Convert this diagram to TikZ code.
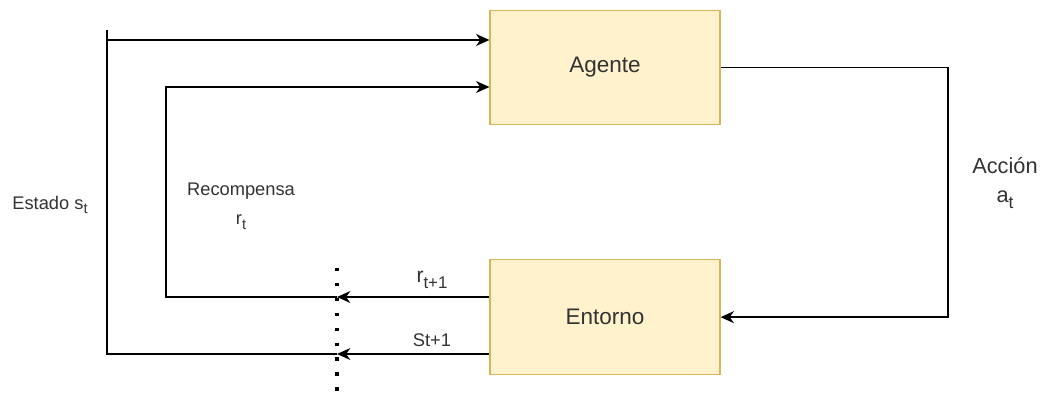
\documentclass[tikz,border=0pt]{standalone}
\usepackage{fontspec}
\setmainfont{Liberation Sans}
\usetikzlibrary{arrows.meta,positioning}

\definecolor{boxfill}{HTML}{FFF2CC}
\definecolor{boxline}{HTML}{D6B656}
\definecolor{txt}{HTML}{333333}

\makeatletter
\newcommand\sbi[1]{\raisebox{-0.5ex}{\fontsize{\strip@pt\dimexpr\f@size pt*80/100\relax}{1}\selectfont #1}}
\makeatother

\begin{document}
\begin{tikzpicture}[x=0.025cm,y=0.025cm,>={Stealth[length=9.5pt,width=8.5pt,inset=3pt]},line width=1pt,node distance=6.24cm,
	bloque/.style={rectangle,draw=boxline,fill=boxfill,line width=0.8pt,minimum width=5.75cm,minimum height=2.87cm,text=txt,font=\fontsize{16}{19}\selectfont},
	etiq/.style={text=txt,align=center,font=\fontsize{13}{20.5}\selectfont},
	corte/.style={line width=2.4pt,dash pattern=on 2.4pt off 8.2pt}]

\useasboundingbox (0,0) rectangle (1044,394);

\node[bloque]   (ag)    at (605,326.5)        {Agente};
\node[bloque]   (en)    [below of=ag]         {Entorno};

\coordinate (c1) at (337,97);
\coordinate (c2) at (337,40);
\coordinate (r0) at (166,97);
\coordinate (r1) at (166,307);
\coordinate (s0) at (107,40);
\coordinate (s1) at (107,364);
\coordinate (s2) at (107,354);
\coordinate (a0) at (948,0);

	\draw[corte] (337,126) -- (337,2);

	\draw[->] (en.west |- c1) -- (c1);
	\draw[->] (en.west |- c2) -- (c2);
	\draw[->] (c1) -- (r0) -- (r1) -- (ag.west |- r1);
	\draw (c2) -- (s0) -- (s1);
	\draw[->] (s2) -- (ag.west |- s2);
	\draw[->] (ag.east) -- (ag.east -| a0) -- (en.east -| a0) -- (en.east);

\node[etiq] (estado) at (50,189)   {Estado s\sbi{t}};
\node[etiq] (recomp) at (241,188)  {Recompensa\\r\sbi{t}};
\node[etiq,font=\fontsize{15.5}{21}\selectfont] (accion) at (1005,211) {Acción\\a\sbi{t}};
\node[etiq,font=\fontsize{15}{18}\selectfont] (rsig) at (432,114) {r\sbi{t+1}};
\node[etiq] (ssig)   at (432,54)   {St+1};

\end{tikzpicture}
\end{document}
